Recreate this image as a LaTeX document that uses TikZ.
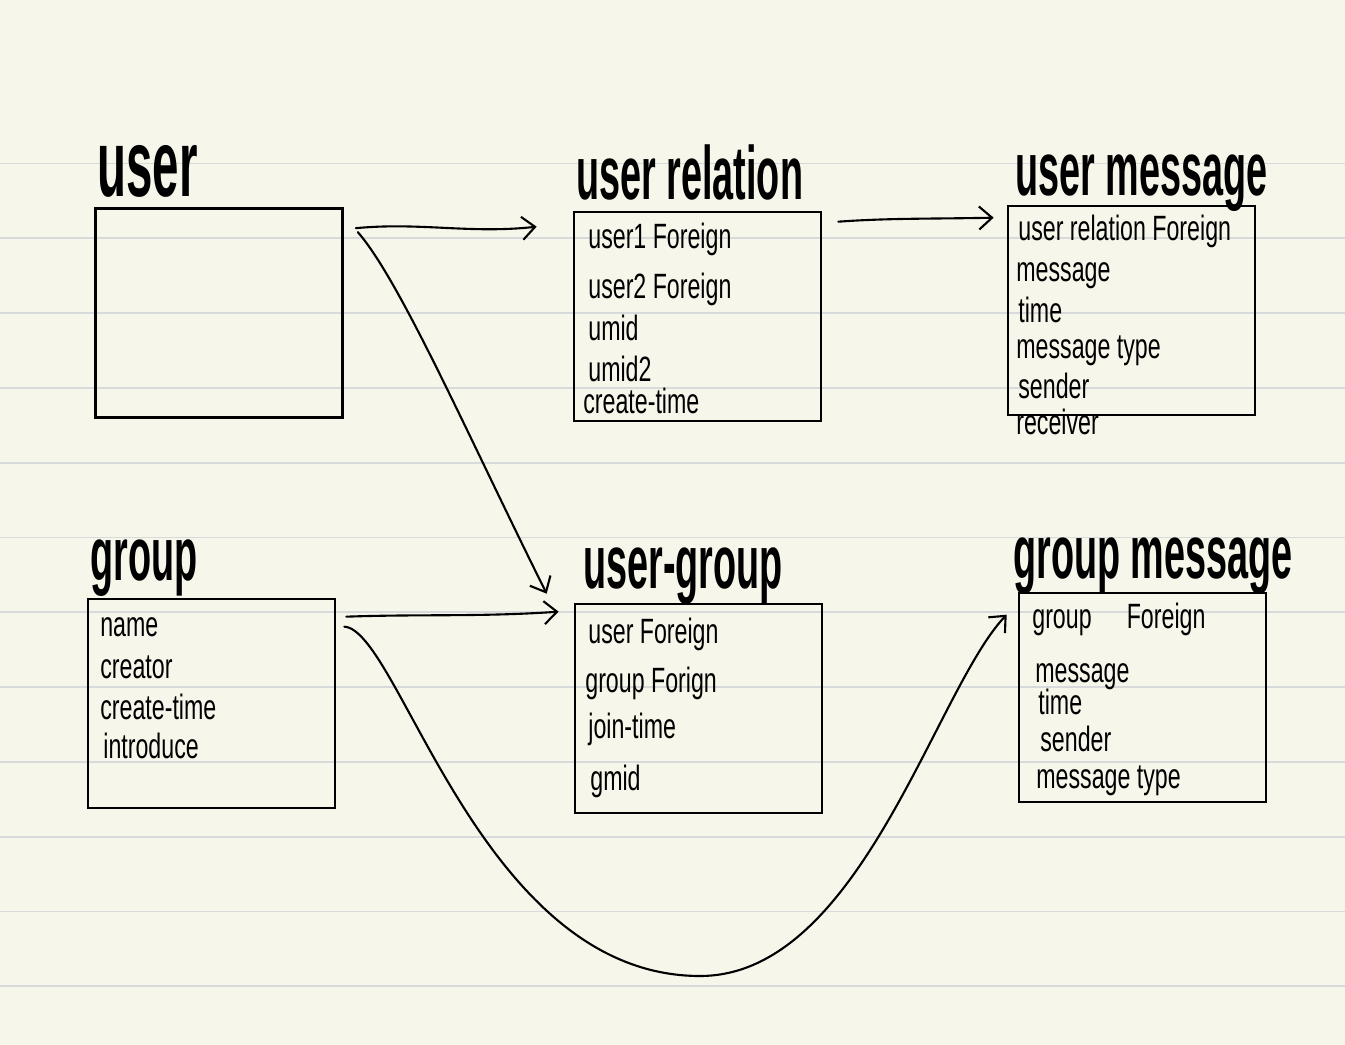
\documentclass[tikz,border=0pt]{standalone}
\usepackage{fontspec}
\usepackage{tikz}
\usetikzlibrary{arrows.meta,calc}
\newfontfamily\titlefont[FakeStretch=0.5]{Liberation Sans}
\newfontfamily\fieldfont[FakeStretch=0.66]{Liberation Sans}
\definecolor{paper}{RGB}{247,246,234}
\definecolor{ruling}{RGB}{216,217,219}

\begin{document}
\begin{tikzpicture}[x=0.2mm,y=-0.2mm,
		tbl/.style={draw,line width=1.5pt,minimum width=49.4mm,minimum height=41.8mm,inner sep=0pt},
		title/.style={anchor=base west,inner sep=0pt,font=\titlefont\bfseries\fontsize{43}{43}\selectfont},
		field/.style={anchor=base west,inner sep=0pt,font=\fieldfont\fontsize{20}{20}\selectfont},
		conn/.style={line width=1.2pt,line cap=round,-{Straight Barb[length=2.6mm,width=4.6mm]}}]
		% Paper and ruled lines
		\path[use as bounding box,fill=paper] (0,0) rectangle (1345,1045);
		\foreach \y in {0,...,11}
			\draw[ruling,line width=1pt] (0,163.5+74.8*\y) -- (1345,163.5+74.8*\y);

		% Tables
		\node[tbl] (user) at (219,313) {};
		\node[tbl] (urel) at (697.5,316.5) {};
		\node[tbl] (umsg) at (1131.5,310.5) {};
		\node[tbl] (grp) at (211.5,703.5) {};
		\node[tbl] (ugrp) at (698.5,708.5) {};
		\node[tbl] (gmsg) at (1142.5,697.5) {};

		% Table names
		\node[title,font=\titlefont\bfseries\fontsize{54}{54}\selectfont] (userT) at (97,196) {user};
		\node[title] (urelT) at (576,200) {user relation};
		\node[title] (umsgT) at (1015,195) {user message};
		\node[title] (grpT) at (90,580) {group};
		\node[title] (ugrpT) at (583,588) {user-group};
		\node[title] (gmsgT) at (1013,578) {group message};

		% Fields
		\foreach \x/\y/\t [count=\i] in {588/248/user1 Foreign, 588/298/user2 Foreign,
				588/340/umid, 588/381/umid2, 583/413/create-time}
			\node[field] (urelF\i) at (\x,\y) {\t};
		\foreach \x/\y/\t [count=\i] in {1018/240/user relation Foreign, 1016/281/message,
				1018/322/time, 1016/358/message type, 1018/398/sender, 1016/434/receiver}
			\node[field] (umsgF\i) at (\x,\y) {\t};
		\foreach \x/\y/\t [count=\i] in {100/636/name, 100/678/creator,
				100/719/create-time, 103/758/introduce}
			\node[field] (grpF\i) at (\x,\y) {\t};
		\foreach \x/\y/\t [count=\i] in {588/643/user Foreign, 585/692/group Forign,
				588/738/join-time, 590/790/gmid}
			\node[field] (ugrpF\i) at (\x,\y) {\t};
		\foreach \x/\y/\t [count=\i] in {1032/628/group\quad Foreign, 1035/682/message,
				1038/714/time, 1040/751/sender, 1036/788/message type}
			\node[field] (gmsgF\i) at (\x,\y) {\t};

		% Links
		\draw[conn] ($(user.north east)+(12,21)$) .. controls (420,222) and (470,234)
			.. ($(urel.north west)+(-36,16)$);
		\draw[conn] ($(urel.north east)+(16,11)$) .. controls (890,218) and (930,219)
			.. ($(umsg.north west)+(-13,13)$);
		\draw[conn] ($(user.north east)+(14,25)$) .. controls (400,280) and (470,440)
			.. ($(ugrp.north west)+(-27,-9)$);
		\draw[conn] ($(grp.north east)+(10,19)$) .. controls (420,614) and (480,617)
			.. ($(ugrp.north west)+(-15,9)$);
		\draw[conn] ($(grp.north east)+(8,29)$) .. controls (400,630) and (480,976)
			.. (700,976) .. controls (860,976) and (935,690)
			.. ($(gmsg.north west)+(-11,23)$);
	\end{tikzpicture}
\end{document}
